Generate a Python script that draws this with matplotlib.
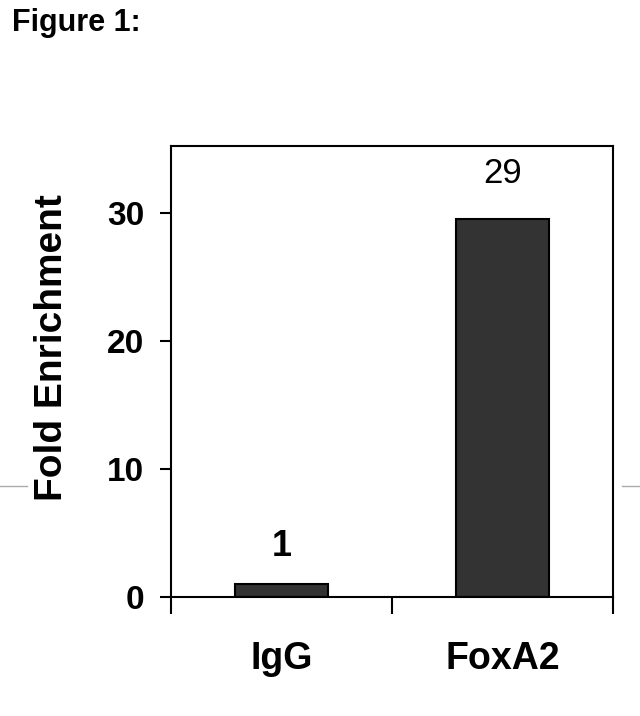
import numpy as np
import matplotlib.pyplot as plt
from matplotlib.lines import Line2D

plt.rcParams['font.family'] = ['Liberation Sans', 'DejaVu Sans']

groups = ["IgG", "FoxA2"]
fold = [1.0, 29.5]
fold_txt = ["1", "29"]

fig = plt.figure(figsize=(6.4, 7.16), dpi=100)
ax = fig.add_axes([0.267, 0.1662, 0.6906, 0.6299])

x = np.arange(len(groups))
ax.bar(x, fold, width=0.42, color="#333333", edgecolor="black", linewidth=1.5)

ax.text(x[0], fold[0] + 2.2, fold_txt[0], ha="center", va="baseline",
        fontsize=26, fontweight="bold")
ax.text(x[1], fold[1] + 2.8, fold_txt[1], ha="center", va="baseline",
        fontsize=25)

ax.set_xlim(-0.5, 1.5)
ax.set_ylim(0, 35.2)
ax.set_yticks([0, 10, 20, 30])
ax.set_xticks([-0.5, 0.5, 1.5])
ax.set_xticklabels([])
ax.set_xticks(x, minor=True)
ax.set_xticklabels(groups, minor=True, fontsize=27, fontweight="bold")
ax.tick_params(axis="x", which="major", direction="out", length=12, width=1.5)
ax.tick_params(axis="x", which="minor", length=0, pad=32)
ax.tick_params(axis="y", direction="out", length=8, width=1.5, pad=11,
               labelsize=24)
for lab in ax.get_yticklabels():
    lab.set_fontweight("bold")
for s in ax.spines.values():
    s.set_linewidth(1.5)

ax.set_ylabel("Fold Enrichment", fontsize=28, fontweight="bold")
ax.yaxis.set_label_coords(-0.228, 0.554)

fig.text(0.018, 0.968, "Figure 1:", fontsize=22, fontweight="bold",
         ha="left", va="center")

# grey stubs at the page edges
y_stub = 1 - 486 / 716
fig.add_artist(Line2D([0, 0.042], [y_stub, y_stub], color="#aaaaaa", lw=1))
fig.add_artist(Line2D([0.972, 1], [y_stub, y_stub], color="#aaaaaa", lw=1))

fig.savefig("out.png", dpi=100)
